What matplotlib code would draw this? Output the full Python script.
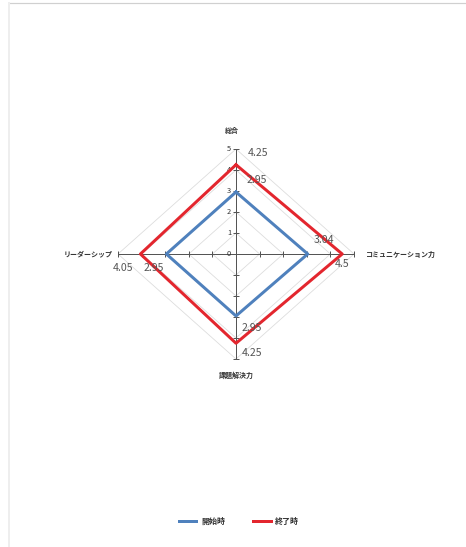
import matplotlib.pyplot as plt
import matplotlib.lines as mlines
import numpy as np

plt.rcParams['font.family'] = ['Noto Sans CJK JP', 'DejaVu Sans']

categories = ['総合', 'コミュニケーション力', '課題解決力', 'リーダーシップ']
start_vals = [2.95, 3.04, 2.95, 2.95]
end_vals = [4.25, 4.5, 4.25, 4.05]
start_labels = ['2.95', '3.04', '2.95', '2.95']
end_labels = ['4.25', '4.5', '4.25', '4.05']
series_names = ['開始時', '終了時']
rings = [1, 2, 3, 4, 5]

blue = '#4F81BD'
red = '#E3262E'

angles = np.deg2rad([90, 0, -90, 180])

def to_xy(vals):
    v = np.array(vals, dtype=float)
    return v * np.cos(angles), v * np.sin(angles)

fig = plt.figure(figsize=(466 / 72, 547 / 72), dpi=72)
ax = fig.add_axes([118 / 466, 188 / 547, 236 / 466, 210 / 547])
ax.set_xlim(-5, 5)
ax.set_ylim(-5, 5)
ax.axis('off')

# grid rings
for r in rings:
    gx, gy = to_xy([r] * 4)
    ax.plot(np.append(gx, gx[0]), np.append(gy, gy[0]), color='#dcdcdc', lw=0.8, zorder=1)

# spokes + tick marks
for a in angles:
    ax.plot([0, 5 * np.cos(a)], [0, 5 * np.sin(a)], color='#555555', lw=1, zorder=2)
    for r in range(0, 6):
        ax.plot([r * np.cos(a)], [r * np.sin(a)], marker=(2, 0, np.rad2deg(a)),
                markersize=6, color='#555555', mew=1, zorder=2)

# value ticks on top spoke
for r in range(0, 6):
    ax.annotate(str(r), xy=(0, r), xytext=(-5, 0), textcoords='offset points',
                ha='right', va='center', fontsize=7.5, color='#333333')

sx, sy = to_xy(start_vals)
ex, ey = to_xy(end_vals)
ax.plot(np.append(sx, sx[0]), np.append(sy, sy[0]), color=blue, lw=3, zorder=3)
ax.plot(np.append(ex, ex[0]), np.append(ey, ey[0]), color=red, lw=3, zorder=4)

start_off = [(21, 12), (16, 14), (16, -12), (-13, -14)]
end_off = [(22, 12), (0, -10), (16, -10), (-17, -14)]
for i in range(4):
    ax.annotate(start_labels[i], xy=(sx[i], sy[i]), xytext=start_off[i],
                textcoords='offset points', ha='center', va='center',
                fontsize=10.5, color='#555555', zorder=5)
    ax.annotate(end_labels[i], xy=(ex[i], ey[i]), xytext=end_off[i],
                textcoords='offset points', ha='center', va='center',
                fontsize=10.5, color='#555555', zorder=5)

# category labels
cat_pos = [((0, 5), (-4, 18), 'center'), ((5, 0), (12, 0), 'left'),
           ((0, -5), (0, -16), 'center'), ((-5, 0), (-5, 0), 'right')]
for name, (pt, off, ha) in zip(categories, cat_pos):
    ax.annotate(name, xy=pt, xytext=off, textcoords='offset points',
                ha=ha, va='center', fontsize=7, fontweight='bold', color='#333333')

blue_line = mlines.Line2D([], [], color=blue, lw=3, label=series_names[0])
red_line = mlines.Line2D([], [], color=red, lw=3, label=series_names[1])
leg = fig.legend(handles=[blue_line, red_line], loc='center', ncol=2,
                 bbox_to_anchor=(239 / 466, 1 - 521 / 547), frameon=False,
                 fontsize=8, handlelength=2.2, columnspacing=3.5, handletextpad=0.6)
for t in leg.get_texts():
    t.set_fontweight('bold')
    t.set_color('#333333')

# faint frame
fig.add_artist(mlines.Line2D([10 / 466, 1], [1 - 3 / 547, 1 - 3 / 547],
                             color='#d0d0d0', lw=1.2, transform=fig.transFigure))
fig.add_artist(mlines.Line2D([9 / 466, 9 / 466], [0, 1 - 3 / 547],
                             color='#eeeeee', lw=2, transform=fig.transFigure))

plt.savefig('out.png', dpi=72)
